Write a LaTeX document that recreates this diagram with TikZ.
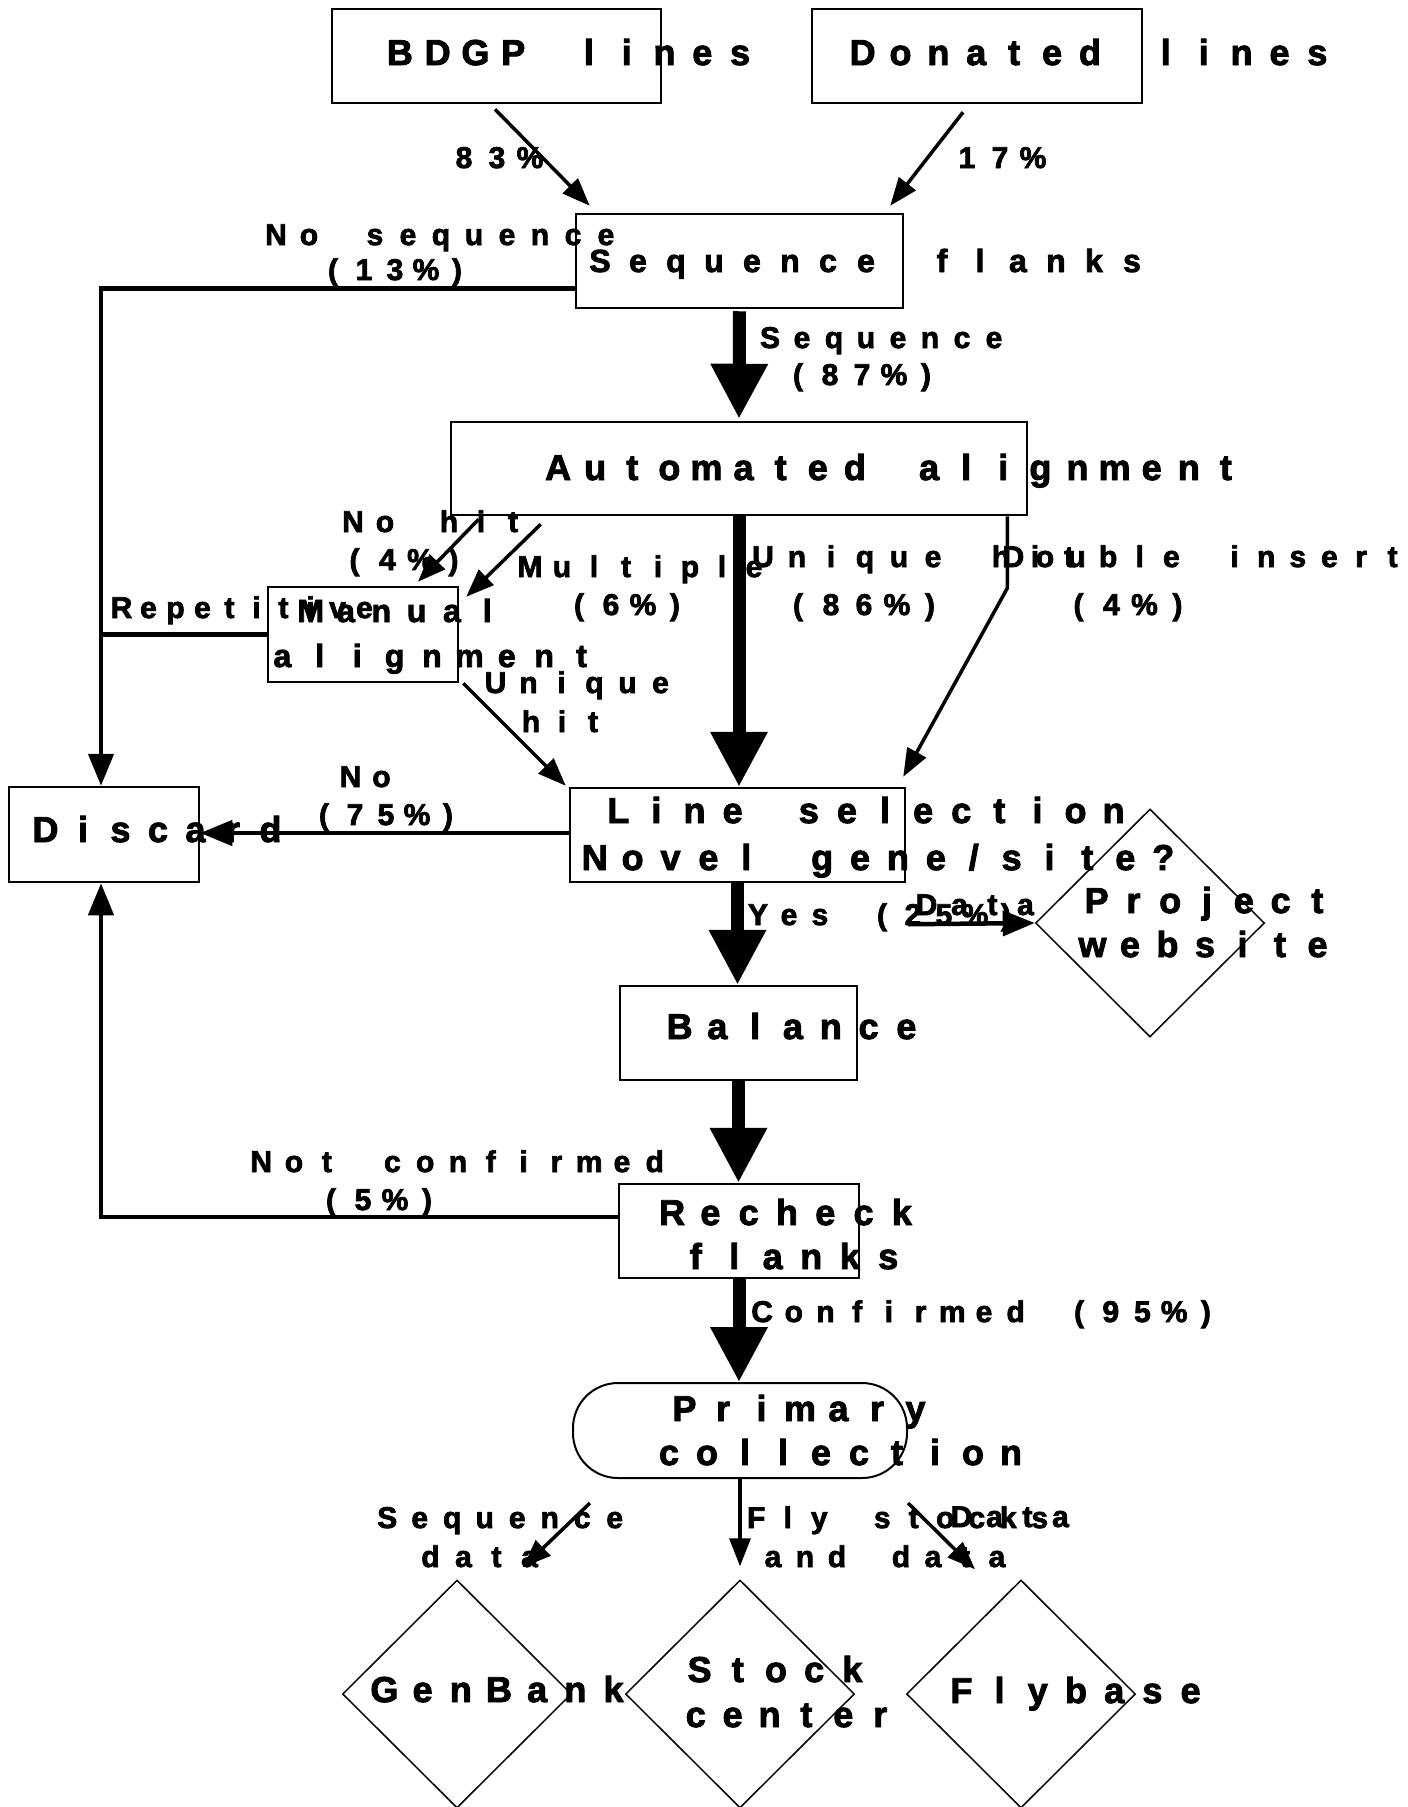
\documentclass[tikz,border=0pt]{standalone}
\usepackage{fontspec}
\setmainfont{Liberation Sans}[BoldFeatures={FakeBold=2.5}]
\usetikzlibrary{arrows.meta,calc,shapes.geometric}
\newlength\cellw
\def\spacedend{\relax}
\newcommand\spaced[2]{\setlength\cellw{#1pt}\spacedloop#2\spacedend}
\def\spacedloop#1{\ifx#1\spacedend\else\makebox[\cellw][c]{#1}\expandafter\spacedloop\fi}
\begin{document}
\begin{tikzpicture}[x=1pt,y=-1pt,
  box/.style={draw, line width=2.5pt, inner sep=0pt},
  dia/.style={diamond, draw, line width=1.5pt, inner sep=0pt, minimum width=229pt, minimum height=228pt},
  big/.style={anchor=base, inner sep=0pt, font=\bfseries\fontsize{36}{40}\selectfont},
  mid/.style={anchor=base, inner sep=0pt, font=\bfseries\fontsize{32}{36}\selectfont},
  lbl/.style={anchor=base, inner sep=0pt, font=\bfseries\fontsize{30}{32}\selectfont},
  thinarr/.style={line width=3.5pt, -{Triangle[length=28pt,width=21pt]}},
  elbow/.style={line width=4.5pt},
  medarr/.style={line width=4.5pt, -{Triangle[length=32pt,width=25pt]}},
  thickarr/.style={line width=13pt, -{Triangle[length=55pt,width=54pt]}}]
\useasboundingbox (0,0) rectangle (1408,1807);

% ---- texts ----
\node[big] (tbdgp) at (570,65) {\spaced{37.8}{BDGP~lines}};
\node[big] (tdon) at (1090,65) {\spaced{37.9}{Donated~lines}};
\node[mid] (tseq) at (866,272) {\spaced{38}{Sequence~flanks}};
\node[big] (tauto) at (892,480) {\spaced{37.1}{Automated~alignment}};
\node[lbl] (trep) at (243,618) {\spaced{27}{Repetitive}};
\node[mid] (tman1) at (399,622) {\spaced{35.3}{Manual}};
\node[mid] (tman2) at (432,667) {\spaced{37.4}{alignment}};
\node[big] (tls1) at (866,823) {\spaced{38.1}{Line~selection}};
\node[big] (tls2) at (879,870) {\spaced{37.9}{Novel~gene/site?}};
\node[big] (tdis) at (158,842) {\spaced{37.5}{Discard}};
\node[big] (tpw1) at (1207,913) {\spaced{36.8}{Project}};
\node[big] (tpw2) at (1205,957) {\spaced{37.5}{website}};
\node[big] (tbal) at (793,1039) {\spaced{37.8}{Balance}};
\node[big] (trc1) at (787,1225) {\spaced{38.3}{Recheck}};
\node[big] (trc2) at (792,1269) {\spaced{38.5}{flanks}};
\node[big] (tpc1) at (800,1421) {\spaced{38.5}{Primary}};
\node[big] (tpc2) at (840,1465) {\spaced{38}{collection}};
\node[big] (tgb) at (499,1702) {\spaced{38.2}{GenBank}};
\node[big] (tsc1) at (776,1682) {\spaced{38.2}{Stock}};
\node[big] (tsc2) at (788,1727) {\spaced{36.9}{center}};
\node[big] (tfb) at (1076,1703) {\spaced{38.2}{Flybase}};

\node[lbl] (l83) at (497,168) {\spaced{33}{83\%}};
\node[lbl] (l17) at (1000,168) {\spaced{33}{17\%}};
\node[lbl] (lns1) at (441,245) {\spaced{33}{No~sequence}};
\node[lbl] (lns2) at (395,280) {\spaced{31}{(13\%)}};
\node[lbl] (lsq1) at (882,348) {\spaced{32}{Sequence}};
\node[lbl] (lsq2) at (862,385) {\spaced{32}{(87\%)}};
\node[lbl] (lnh1) at (433,532) {\spaced{32}{No~hit}};
\node[lbl] (lnh2) at (404,570) {\spaced{33}{(4\%)}};
\node[lbl] (lmu1) at (642,577) {\spaced{32}{Multiple}};
\node[lbl] (lmu2) at (627,615) {\spaced{32}{(6\%)}};
\node[lbl] (luh1) at (916,567) {\spaced{34}{Unique~hit}};
\node[lbl] (luh2) at (864,615) {\spaced{33}{(86\%)}};
\node[lbl] (ldi1) at (1203,567) {\spaced{31.6}{Double~insert}};
\node[lbl] (ldi2) at (1128,615) {\spaced{33}{(4\%)}};
\node[lbl] (lmh1) at (578,693) {\spaced{33}{Unique}};
\node[lbl] (lmh2) at (562,732) {\spaced{31}{hit}};
\node[lbl] (lno1) at (366,787) {\spaced{31}{No}};
\node[lbl] (lno2) at (386,825) {\spaced{31}{(75\%)}};
\node[lbl] (lyes) at (882,925) {\spaced{31}{Yes~(25\%)}};
\node[lbl] (ldat1) at (976,915) {\spaced{33}{Data}};
\node[lbl] (lnc1) at (458,1172) {\spaced{32.8}{Not~confirmed}};
\node[lbl] (lnc2) at (379,1210) {\spaced{32}{(5\%)}};
\node[lbl] (lcf) at (984,1322) {\spaced{31.7}{Confirmed~(95\%)}};
\node[lbl] (lsd1) at (501,1528) {\spaced{32.5}{Sequence}};
\node[lbl] (lsd2) at (480,1567) {\spaced{33}{data}};
\node[lbl] (lfs1) at (898,1528) {\spaced{31.5}{Fly~stocks}};
\node[lbl] (lfs2) at (885,1567) {\spaced{32}{and~data}};
\node[lbl] (ldat2) at (1011,1527) {\spaced{33}{Data}};

% ---- boxes ----
\node[box, minimum width=329pt, minimum height=94pt] (bdgp) at (496.5,56) {};
\node[box, minimum width=330pt, minimum height=94pt] (donated) at (977,56) {};
\node[box, minimum width=327pt, minimum height=94pt] (seqfl) at (739.5,261) {};
\node[box, minimum width=576pt, minimum height=93pt] (auto) at (739,468.5) {};
\node[box, minimum width=190pt, minimum height=95pt] (manual) at (363,634.5) {};
\node[box, minimum width=335pt, minimum height=94pt] (linesel) at (737.5,835) {};
\node[box, minimum width=190pt, minimum height=95pt] (discard) at (104,834.5) {};
\node[box, minimum width=237pt, minimum height=94pt] (balance) at (738.5,1033) {};
\node[box, minimum width=240pt, minimum height=94pt] (recheck) at (739,1231) {};
\node[box, line width=2pt, rounded corners=45pt, minimum width=334pt, minimum height=95pt] (primary) at (740,1430.5) {};
\node[dia] (website) at (1150,923) {};
\node[dia] (genbank) at (457,1694) {};
\node[dia] (stock) at (740,1694) {};
\node[dia] (flybase) at (1021,1694) {};
\coordinate (lx) at ($(discard.north)+(-3,0)$);

% ---- connectors ----
\draw[thinarr] ($(bdgp.south)+(-1.5,5)$) -- ($(seqfl.north west)+(15,-7)$);
\draw[thinarr] ($(donated.south)+(-14,8)$) -- ($(seqfl.north east)+(-14,-7)$);
\draw[medarr] ($(seqfl.south west)+(0,-21)$) -| (lx);
\draw[thickarr] ($(seqfl.south)+(0,2)$) -- ($(auto.north)+(0,-2)$);
\draw[thinarr] ($(auto.south west)+(29,3)$) -- ($(manual.north)+(55,-4)$);
\draw[thinarr] ($(auto.south west)+(91,8)$) -- ($(manual.north east)+(7,11)$);
\draw[thickarr] (auto.south) -- (auto.south |- linesel.north);
\draw[thinarr] ($(auto.south east)+(-21,0)$) -- ($(auto.south east)+(-21,72)$) -- ($(linesel.north east)+(-3,-10)$);
\draw[thinarr] ($(manual.south east)+(4,0)$) -- ($(linesel.north west)+(-3,-1)$);
\draw[elbow] (manual.west) -- (manual.west -| lx);
\draw[medarr] ($(linesel.west)+(0,-2)$) -- ($(discard.east)+(0,-1.5)$);
\draw[medarr] ($(linesel.south east)+(2,41)$) -- (website.west);
\draw[thickarr] (linesel.south) -- (linesel.south |- balance.north);
\draw[thickarr] (balance.south) -- (balance.south |- recheck.north);
\draw[medarr] ($(recheck.west)+(0,-14)$) -| ($(discard.south)+(-3,0)$);
\draw[thickarr] (recheck.south) -- (recheck.south |- primary.north);
\draw[thinarr] ($(primary.south west)+(18,24)$) -- ($(genbank.north)+(66,-12)$);
\draw[thinarr] (primary.south) -- ($(stock.north)+(0,-13)$);
\draw[thinarr] ($(primary.south east)+(0,24)$) -- ($(flybase.north)+(-46,-10)$);
\end{tikzpicture}
\end{document}
